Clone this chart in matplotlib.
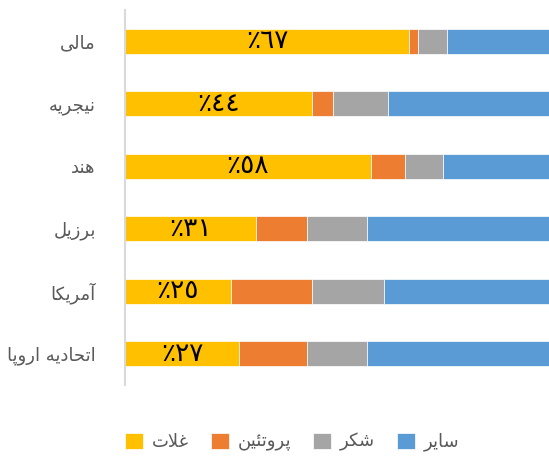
import matplotlib
matplotlib.use('Agg')
import matplotlib.pyplot as plt
import numpy as np

# data (share of each item, %)
countries = ['مالی', 'نیجریه', 'هند', 'برزیل', 'آمریکا', 'اتحادیه اروپا']
series_names = ['غلات', 'پروتئین', 'شکر', 'سایر']
grains = [67, 44, 58, 31, 25, 27]
protein = [2, 5, 8, 12, 19, 16]
sugar = [7, 13, 9, 14, 17, 14]
other = [24, 38, 25, 43, 39, 43]
colors = ['#FFC000', '#ED7D31', '#A5A5A5', '#5B9BD5']

# matplotlib has no arabic shaping, so do a small one by hand
# letter: (isolated, final, initial, medial)
FORMS = {
    'ا': ('\uFE8D', '\uFE8E', None, None),
    'آ': ('\uFE81', '\uFE82', None, None),
    'ب': ('\uFE8F', '\uFE90', '\uFE91', '\uFE92'),
    'پ': ('\uFB56', '\uFB57', '\uFB58', '\uFB59'),
    'ت': ('\uFE95', '\uFE96', '\uFE97', '\uFE98'),
    'ج': ('\uFE9D', '\uFE9E', '\uFE9F', '\uFEA0'),
    'ح': ('\uFEA1', '\uFEA2', '\uFEA3', '\uFEA4'),
    'د': ('\uFEA9', '\uFEAA', None, None),
    'ر': ('\uFEAD', '\uFEAE', None, None),
    'ز': ('\uFEAF', '\uFEB0', None, None),
    'س': ('\uFEB1', '\uFEB2', '\uFEB3', '\uFEB4'),
    'ش': ('\uFEB5', '\uFEB6', '\uFEB7', '\uFEB8'),
    'غ': ('\uFECD', '\uFECE', '\uFECF', '\uFED0'),
    'ک': ('\uFB8E', '\uFB8F', '\uFB90', '\uFB91'),
    'ل': ('\uFEDD', '\uFEDE', '\uFEDF', '\uFEE0'),
    'م': ('\uFEE1', '\uFEE2', '\uFEE3', '\uFEE4'),
    'ن': ('\uFEE5', '\uFEE6', '\uFEE7', '\uFEE8'),
    'ه': ('\uFEE9', '\uFEEA', '\uFEEB', '\uFEEC'),
    'و': ('\uFEED', '\uFEEE', None, None),
    'ی': ('\uFBFC', '\uFBFD', '\uFBFE', '\uFBFF'),
    'ئ': ('\uFE89', '\uFE8A', '\uFE8B', '\uFE8C'),
}


def shape(word):
    out = []
    i = 0
    while i < len(word):
        c = word[i]
        if c not in FORMS:
            out.append(c)
            i += 1
            continue
        prev = word[i - 1] if i > 0 else None
        joins_prev = prev in FORMS and FORMS[prev][2] is not None
        # lam-alef ligature
        if c == 'ل' and i + 1 < len(word) and word[i + 1] == 'ا':
            out.append('\uFEFC' if joins_prev else '\uFEFB')
            i += 2
            continue
        nxt = word[i + 1] if i + 1 < len(word) else None
        iso, fin, ini, med = FORMS[c]
        joins_next = ini is not None and nxt in FORMS
        if joins_prev and joins_next:
            out.append(med)
        elif joins_prev:
            out.append(fin)
        elif joins_next:
            out.append(ini)
        else:
            out.append(iso)
        i += 1
    return ''.join(reversed(out))


def pct_label(v):
    digits = str(v).translate(str.maketrans('0123456789', '٠١٢٣٤٥٦٧٨٩'))
    return '٪' + digits


fig = plt.figure(figsize=(5.49, 4.58), dpi=100)
ax = fig.add_axes([125 / 549, 1 - 385 / 458, 1 - 125 / 549, 375 / 458])

y = np.arange(len(countries))
data = [grains, protein, sugar, other]
left = np.zeros(len(countries))
for name, vals, col in zip(series_names, data, colors):
    ax.barh(y, vals, left=left, height=0.4, color=col, edgecolor='white',
            linewidth=0.5, label=shape(name))
    left += np.array(vals)

# percent labels on the grain segment
for yi, v in zip(y, grains):
    ax.text(v / 2, yi, pct_label(v), ha='center', va='center',
            fontsize=19, color='black')

ax.set_xlim(0, 100)
ax.set_ylim(len(countries) - 0.5, -0.5)
ax.set_yticks(y)
ax.set_yticklabels([shape(c) for c in countries], fontsize=13, color='#595959')
ax.tick_params(axis='y', length=0, pad=21)
ax.set_xticks([])
for s in ['top', 'right', 'bottom']:
    ax.spines[s].set_visible(False)
ax.spines['left'].set_color('#D9D9D9')
ax.spines['left'].set_linewidth(1.5)

fig.legend(loc='center', bbox_to_anchor=(292 / 549, 1 - 442 / 458), ncol=4,
           frameon=False, fontsize=13, labelcolor='#595959',
           handlelength=1.0, handleheight=1.0, handletextpad=0.5,
           columnspacing=1.2)

fig.savefig('out.png', dpi=100)
